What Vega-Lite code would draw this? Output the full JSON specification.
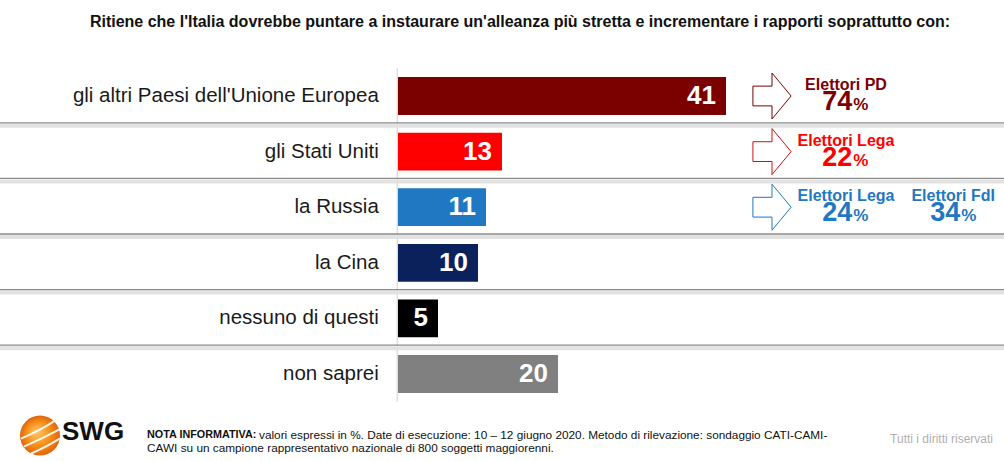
{
  "$schema": "https://vega.github.io/schema/vega-lite/v6.json",
  "width": 1004,
  "height": 461,
  "autosize": {"type": "none"},
  "padding": 0,
  "background": "white",
  "config": {"font": "Liberation Sans", "view": {"stroke": null}},
  "data": {"values": [{}]},
  "datasets": {
    "risposte": [
      {"risposta": "gli altri Paesi dell'Unione Europea", "valore": 41},
      {"risposta": "gli Stati Uniti", "valore": 13},
      {"risposta": "la Russia", "valore": 11},
      {"risposta": "la Cina", "valore": 10},
      {"risposta": "nessuno di questi", "valore": 5},
      {"risposta": "non saprei", "valore": 20}
    ],
    "elettori": [
      {"risposta": "gli altri Paesi dell'Unione Europea", "elettori": "Elettori PD", "pct": 74},
      {"risposta": "gli Stati Uniti", "elettori": "Elettori Lega", "pct": 22},
      {"risposta": "la Russia", "elettori": "Elettori Lega", "pct": 24},
      {"risposta": "la Russia", "elettori": "Elettori FdI", "pct": 34}
    ]
  },
  "layer": [
    {
      "data": {"name": "risposte"},
      "mark": {"type": "bar", "height": {"band": 0.68}},
      "encoding": {
        "y": {"field": "risposta", "type": "nominal", "axis": null,
          "scale": {"domain": ["T", "gli altri Paesi dell'Unione Europea", "gli Stati Uniti", "la Russia", "la Cina", "nessuno di questi", "non saprei", "F"],
            "range": [12.6, 457.4], "paddingInner": 0, "paddingOuter": 0}},
        "x": {"field": "valore", "type": "quantitative", "axis": null,
          "scale": {"domain": [-49.75, 75.75], "nice": false}},
        "color": {"field": "risposta", "type": "nominal", "legend": null,
          "scale": {"domain": ["gli altri Paesi dell'Unione Europea", "gli Stati Uniti", "la Russia", "la Cina", "nessuno di questi", "non saprei"],
            "range": ["#7B0000", "#FF0000", "#1F78C1", "#0B215C", "#000000", "#808080"]}}
      }
    },
    {
      "data": {"name": "risposte"},
      "mark": {"type": "bar", "height": {"band": 1}, "color": "#cccccc"},
      "encoding": {
        "y": {"field": "risposta", "type": "nominal"},
        "x": {"datum": -0.16, "type": "quantitative"},
        "x2": {"datum": -0.04}
      }
    },
    {
      "data": {"name": "risposte"},
      "transform": [{"filter": "datum.valore != 41"}],
      "mark": {"type": "rule", "color": "#e2e2e2", "strokeWidth": 4, "yOffset": 2},
      "encoding": {"y": {"field": "risposta", "type": "nominal", "bandPosition": 0}}
    },
    {
      "data": {"name": "risposte"},
      "transform": [{"filter": "datum.valore != 41"}],
      "mark": {"type": "rule", "color": "#8a8a8a", "strokeWidth": 1.3, "yOffset": -1},
      "encoding": {"y": {"field": "risposta", "type": "nominal", "bandPosition": 0}}
    },
    {
      "data": {"name": "risposte"},
      "mark": {"type": "text", "align": "right", "baseline": "middle", "dx": -10, "fontSize": 26, "fontWeight": "bold", "color": "white"},
      "encoding": {
        "x": {"field": "valore", "type": "quantitative"},
        "y": {"field": "risposta", "type": "nominal"},
        "text": {"field": "valore", "type": "quantitative"}
      }
    },
    {
      "data": {"name": "risposte"},
      "mark": {"type": "text", "align": "right", "baseline": "middle", "fontSize": 20.5, "color": "#1a1a1a"},
      "encoding": {
        "x": {"datum": -2.4, "type": "quantitative"},
        "y": {"field": "risposta", "type": "nominal"},
        "text": {"field": "risposta", "type": "nominal"}
      }
    },
    {
      "data": {"name": "elettori"},
      "transform": [{"filter": "datum.elettori != 'Elettori FdI'"}],
      "mark": {"type": "point", "shape": "M-0.83,-0.43 L0,-0.43 L0,-1 L0.83,0 L0,1 L0,0.43 L-0.83,0.43 Z", "size": 2116, "filled": true, "fill": "white", "fillOpacity": 1, "opacity": 1, "strokeWidth": 1},
      "encoding": {
        "x": {"datum": 46.75, "type": "quantitative"},
        "y": {"field": "risposta", "type": "nominal"},
        "stroke": {"field": "risposta", "type": "nominal", "legend": null,
          "scale": {"domain": ["gli altri Paesi dell'Unione Europea", "gli Stati Uniti", "la Russia", "la Cina", "nessuno di questi", "non saprei"],
            "range": ["#7B0000", "#D01010", "#1F78C1", "#0B215C", "#000000", "#808080"]}}
      }
    },
    {
      "data": {"name": "elettori"},
      "transform": [{"filter": "datum.elettori != 'Elettori FdI'"}],
      "mark": {"type": "text", "align": "center", "baseline": "alphabetic", "dy": -6, "fontSize": 16, "fontWeight": "bold"},
      "encoding": {
        "x": {"datum": 56.0, "type": "quantitative"},
        "y": {"field": "risposta", "type": "nominal"},
        "text": {"field": "elettori", "type": "nominal"},
        "color": {"field": "risposta", "type": "nominal"}
      }
    },
    {
      "data": {"name": "elettori"},
      "transform": [{"filter": "datum.elettori != 'Elettori FdI'"}],
      "mark": {"type": "text", "align": "right", "baseline": "alphabetic", "dy": 14, "fontSize": 27, "fontWeight": "bold"},
      "encoding": {
        "x": {"datum": 56.8, "type": "quantitative"},
        "y": {"field": "risposta", "type": "nominal"},
        "text": {"field": "pct", "type": "quantitative"},
        "color": {"field": "risposta", "type": "nominal"}
      }
    },
    {
      "data": {"name": "elettori"},
      "transform": [{"filter": "datum.elettori != 'Elettori FdI'"}],
      "mark": {"type": "text", "align": "left", "baseline": "alphabetic", "dy": 14, "fontSize": 17, "fontWeight": "bold", "text": "%"},
      "encoding": {
        "x": {"datum": 56.9, "type": "quantitative"},
        "y": {"field": "risposta", "type": "nominal"},
        "color": {"field": "risposta", "type": "nominal"}
      }
    },
    {
      "data": {"name": "elettori"},
      "transform": [{"filter": "datum.elettori == 'Elettori FdI'"}],
      "mark": {"type": "text", "align": "center", "baseline": "alphabetic", "dy": -6, "fontSize": 16, "fontWeight": "bold"},
      "encoding": {
        "x": {"datum": 69.4, "type": "quantitative"},
        "y": {"field": "risposta", "type": "nominal"},
        "text": {"field": "elettori", "type": "nominal"},
        "color": {"field": "risposta", "type": "nominal"}
      }
    },
    {
      "data": {"name": "elettori"},
      "transform": [{"filter": "datum.elettori == 'Elettori FdI'"}],
      "mark": {"type": "text", "align": "right", "baseline": "alphabetic", "dy": 14, "fontSize": 27, "fontWeight": "bold"},
      "encoding": {
        "x": {"datum": 70.3, "type": "quantitative"},
        "y": {"field": "risposta", "type": "nominal"},
        "text": {"field": "pct", "type": "quantitative"},
        "color": {"field": "risposta", "type": "nominal"}
      }
    },
    {
      "data": {"name": "elettori"},
      "transform": [{"filter": "datum.elettori == 'Elettori FdI'"}],
      "mark": {"type": "text", "align": "left", "baseline": "alphabetic", "dy": 14, "fontSize": 17, "fontWeight": "bold", "text": "%"},
      "encoding": {
        "x": {"datum": 70.4, "type": "quantitative"},
        "y": {"field": "risposta", "type": "nominal"},
        "color": {"field": "risposta", "type": "nominal"}
      }
    },
    {
      "mark": {"type": "text", "align": "center", "baseline": "middle", "dy": -18, "fontSize": 16, "fontWeight": "bold", "color": "#111111",
        "text": "Ritiene che l'Italia dovrebbe puntare a instaurare un'alleanza più stretta e incrementare i rapporti soprattutto con:"},
      "encoding": {
        "x": {"datum": 15.25, "type": "quantitative"},
        "y": {"datum": "T", "type": "nominal"}
      }
    },
    {
      "mark": {"type": "point", "shape": "circle", "size": 1600, "filled": true, "opacity": 1, "yOffset": 6,
        "color": {"gradient": "radial", "x1": 0.4, "y1": 0.4, "r1": 0, "x2": 0.5, "y2": 0.5, "r2": 0.5,
          "stops": [{"offset": 0, "color": "#FDC86E"}, {"offset": 0.55, "color": "#F7941D"}, {"offset": 1, "color": "#E0660A"}]}},
      "encoding": {
        "x": {"datum": -44.75, "type": "quantitative"},
        "y": {"datum": "F", "type": "nominal", "bandPosition": 0.5}
      }
    },
    {
      "mark": {"type": "point", "shape": "M-0.95,0.15 Q0,-0.25 0.75,-0.75 M-0.8,0.55 Q0.1,0.15 0.95,-0.3 M-0.45,0.9 Q0.35,0.55 0.98,0.15", "size": 1600, "filled": false, "color": "white", "strokeWidth": 2, "opacity": 0.9, "yOffset": 6},
      "encoding": {
        "x": {"datum": -44.75, "type": "quantitative"},
        "y": {"datum": "F", "type": "nominal", "bandPosition": 0.5}
      }
    },
    {
      "mark": {"type": "text", "align": "left", "baseline": "middle", "dy": 2, "fontSize": 26, "fontWeight": "bold", "color": "#111111", "text": "SWG"},
      "encoding": {
        "x": {"datum": -42, "type": "quantitative"},
        "y": {"datum": "F", "type": "nominal"}
      }
    },
    {
      "mark": {"type": "text", "align": "left", "baseline": "middle", "dy": 5, "fontSize": 10.8, "fontWeight": "bold", "color": "#111111", "text": "NOTA INFORMATIVA:"},
      "encoding": {
        "x": {"datum": -31.375, "type": "quantitative"},
        "y": {"datum": "F", "type": "nominal"}
      }
    },
    {
      "mark": {"type": "text", "align": "left", "baseline": "middle", "dy": 5, "fontSize": 11.8, "color": "#111111",
        "text": "valori espressi in %. Date di esecuzione: 10 – 12 giugno 2020. Metodo di rilevazione: sondaggio CATI-CAMI-"},
      "encoding": {
        "x": {"datum": -17.375, "type": "quantitative"},
        "y": {"datum": "F", "type": "nominal"}
      }
    },
    {
      "mark": {"type": "text", "align": "left", "baseline": "middle", "dy": 18, "fontSize": 11.8, "color": "#111111",
        "text": "CAWI su un campione rappresentativo nazionale di 800 soggetti maggiorenni."},
      "encoding": {
        "x": {"datum": -31.375, "type": "quantitative"},
        "y": {"datum": "F", "type": "nominal"}
      }
    },
    {
      "mark": {"type": "text", "align": "right", "baseline": "middle", "dy": 9, "fontSize": 12, "color": "#b0b0b0", "text": "Tutti i diritti riservati"},
      "encoding": {
        "x": {"datum": 74.375, "type": "quantitative"},
        "y": {"datum": "F", "type": "nominal"}
      }
    }
  ]
}
